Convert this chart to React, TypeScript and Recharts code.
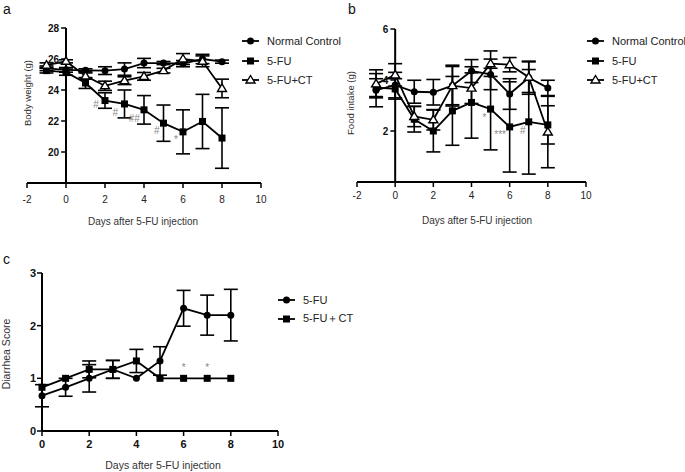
import React from "react";
import {
  ErrorBar,
  Legend,
  Line,
  LineChart,
  ReferenceDot,
  ReferenceLine,
  XAxis,
  YAxis,
} from "recharts";

// ---- data ----
const days = [-1, 0, 1, 2, 3, 4, 5, 6, 7, 8];
const daysC = [0, 1, 2, 3, 4, 5, 6, 7, 8];
const xTicksAB = [-2, 0, 2, 4, 6, 8, 10];
const xTicksC = [0, 2, 4, 6, 8, 10];

// a: body weight (g)
const bwTicks = [20, 22, 24, 26, 28];
const bwNormal = [25.4, 25.3, 25.27, 25.25, 25.35, 25.74, 25.74, 25.7, 26.0, 25.83];
const bwNormalErr = [0.15, 0.15, 0.1, 0.25, 0.4, 0.3, 0.1, 0.2, 0.3, 0.1];
const bw5FU = [25.25, 25.15, 24.45, 23.32, 23.1, 22.72, 21.86, 21.3, 21.97, 20.9];
const bw5FUErr = [0.15, 0.2, 0.35, 0.5, 0.9, 0.92, 1.17, 1.42, 1.75, 1.95];
const bwCT = [25.6, 25.85, 24.9, 24.27, 24.6, 24.88, 25.25, 26.0, 25.85, 24.1];
const bwCTErr = [0.15, 0.1, 0.2, 0.3, 0.25, 0.25, 0.15, 0.35, 0.35, 0.6];
const bwMarks = [
  { day: 1.54, val: 23.04, text: "#" },
  { day: 2.53, val: 22.57, text: "#" },
  { day: 3.5, val: 22.18, text: "##" },
  { day: 4.65, val: 21.42, text: "#" },
  { day: 5.64, val: 20.8, text: "*" },
];

// b: food intake (g)
const fiTicks = [2, 4, 6];
const fiNormal = [3.6, 3.8, 3.54, 3.52, 3.78, 4.35, 4.22, 3.45, 4.09, 3.69];
const fiNormalErr = [0.65, 0.5, 0.45, 0.5, 0.75, 0.45, 0.6, 0.6, 0.65, 0.3];
const fi5FU = [3.7, 3.65, 2.46, 2.0, 2.79, 3.12, 2.86, 2.16, 2.36, 2.24];
const fi5FUErr = [0.35, 0.4, 0.5, 0.82, 1.35, 1.4, 1.6, 1.77, 2.05, 0.75];
const fiCT = [3.85, 4.2, 2.57, 2.44, 3.78, 3.68, 4.64, 4.6, 4.11, 1.96];
const fiCTErr = [0.55, 0.44, 0.4, 0.4, 0.8, 0.6, 0.5, 0.28, 0.6, 1.4];
const fiMarks = [
  { day: 4.68, val: 2.55, text: "*" },
  { day: 5.5, val: 1.85, text: "***" },
  { day: 6.69, val: 2.03, text: "#" },
];

// c: diarrhea score
const dsTicks = [0, 1, 2, 3];
const ds5FU = [0.67, 0.83, 1.0, 1.17, 1.0, 1.33, 2.33, 2.2, 2.2];
const ds5FUErr = [0.21, 0.17, 0.26, 0.17, 0, 0.27, 0.34, 0.38, 0.49];
const dsCT = [0.83, 1.0, 1.17, 1.17, 1.33, 1.0, 1.0, 1.0, 1.0];
const dsCTErr = [0, 0, 0.16, 0.17, 0.22, 0, 0, 0, 0];
const dsMarks = [
  { day: 6, val: 1.2, text: "*" },
  { day: 7, val: 1.2, text: "*" },
];

const toRows = (xs: number[], vals: number[], errs: number[]) =>
  xs.map((d, i) => ({ day: d, v: vals[i], err: errs[i] }));

type Shape = "circle" | "square" | "triangle";

function Marker({ shape, cx, cy }: { shape: Shape; cx: number; cy: number }) {
  if (shape === "circle") return <circle cx={cx} cy={cy} r={3.5} fill="#000" />;
  if (shape === "square")
    return <rect x={cx - 3.5} y={cy - 3.5} width={7} height={7} fill="#000" />;
  return (
    <polygon
      points={`${cx},${cy - 4.5} ${cx - 4.5},${cy + 3} ${cx + 4.5},${cy + 3}`}
      fill="#fff"
      stroke="#000"
      strokeWidth={1.4}
    />
  );
}

const dotFor = (shape: Shape) => (p: any) =>
  <Marker key={`${shape}-${p.index}`} shape={shape} cx={p.cx} cy={p.cy} />;

function LegendBox({ items, rowH }: { items: { name: string; shape: Shape }[]; rowH: number }) {
  return (
    <div style={{ fontSize: 11, color: "#222", whiteSpace: "nowrap" }}>
      {items.map((it) => (
        <div key={it.name} style={{ display: "flex", alignItems: "center", height: rowH }}>
          <svg width={17} height={10} style={{ overflow: "visible" }}>
            <line x1={0} y1={5} x2={17} y2={5} stroke="#000" strokeWidth={1.8} />
            <Marker shape={it.shape} cx={8.5} cy={5} />
          </svg>
          <span style={{ marginLeft: 8 }}>{it.name}</span>
        </div>
      ))}
    </div>
  );
}

const abItems: { name: string; shape: Shape }[] = [
  { name: "Normal Control", shape: "circle" },
  { name: "5-FU", shape: "square" },
  { name: "5-FU+CT", shape: "triangle" },
];
const cItems: { name: string; shape: Shape }[] = [
  { name: "5-FU", shape: "circle" },
  { name: "5-FU＋CT", shape: "square" },
];

const lineProps = { stroke: "#000", strokeWidth: 1.8, isAnimationActive: false };
const errProps = { dataKey: "err", width: 7, stroke: "#000", strokeWidth: 1.6 };
const titleStyle = { fontSize: 10, fill: "#333" };

export default function App() {
  return (
    <div
      style={{
        position: "absolute",
        left: 0,
        top: 0,
        width: 685,
        height: 472,
        background: "#fff",
        overflow: "hidden",
        fontFamily: "'Liberation Sans', Arial, sans-serif",
      }}
    >
      {/* panel a */}
      <div style={{ position: "absolute", left: 0, top: 0 }}>
        <LineChart width={340} height={230} margin={{ top: 28, right: 79, bottom: 0, left: 27 }}>
          <XAxis
            type="number"
            dataKey="day"
            domain={[-2, 10]}
            ticks={xTicksAB}
            interval={0}
            height={47}
            axisLine={{ stroke: "#000", strokeWidth: 2 }}
            tickLine={{ stroke: "#000", strokeWidth: 1.5 }}
            tickSize={5}
            tickMargin={8}
            tick={{ fontSize: 10, fill: "#222" }}
          />
          <YAxis hide type="number" domain={[18, 28]} allowDataOverflow />
          <ReferenceLine x={0} stroke="#000" strokeWidth={2} />
          {bwTicks.map((t) => (
            <ReferenceLine
              key={t}
              segment={[{ x: -0.25, y: t }, { x: 0, y: t }]}
              stroke="#000"
              strokeWidth={1.5}
              label={{ value: String(t), position: "left", offset: 2, fontSize: 10, fontWeight: "bold", fill: "#111" }}
            />
          ))}
          <Line data={toRows(days, bwNormal, bwNormalErr)} dataKey="v" {...lineProps} dot={dotFor("circle")}>
            <ErrorBar {...errProps} />
          </Line>
          <Line data={toRows(days, bw5FU, bw5FUErr)} dataKey="v" {...lineProps} dot={dotFor("square")}>
            <ErrorBar {...errProps} />
          </Line>
          <Line data={toRows(days, bwCT, bwCTErr)} dataKey="v" {...lineProps} dot={dotFor("triangle")}>
            <ErrorBar {...errProps} />
          </Line>
          {bwMarks.map((m, i) => (
            <ReferenceDot
              key={i}
              x={m.day}
              y={m.val}
              r={0}
              fill="none"
              stroke="none"
              label={{ value: m.text, position: "center", fill: "#888", fontSize: 10 }}
            />
          ))}
          <Legend
            layout="vertical"
            align="center"
            verticalAlign="middle"
            wrapperStyle={{ left: 242, top: 31 }}
            content={() => <LegendBox items={abItems} rowH={19.75} />}
          />
          <text x={3} y={14} fontSize={14} fill="#111">a</text>
          <text x={143} y={225} textAnchor="middle" {...titleStyle}>Days after 5-FU injection</text>
          <text x={27} y={93} textAnchor="middle" dominantBaseline="central" transform="rotate(-90 27 93)" fontSize={9.5} fill="#333">
            Body weight (g)
          </text>
        </LineChart>
      </div>

      {/* panel b */}
      <div style={{ position: "absolute", left: 340, top: 0 }}>
        <LineChart width={345} height={230} margin={{ top: 29, right: 99, bottom: 0, left: 17 }}>
          <XAxis
            type="number"
            dataKey="day"
            domain={[-2, 10]}
            ticks={xTicksAB}
            interval={0}
            height={48}
            axisLine={{ stroke: "#000", strokeWidth: 2 }}
            tickLine={{ stroke: "#000", strokeWidth: 1.5 }}
            tickSize={5}
            tickMargin={5}
            tick={{ fontSize: 10, fill: "#222" }}
          />
          <YAxis hide type="number" domain={[0, 6]} allowDataOverflow />
          <ReferenceLine x={0} stroke="#000" strokeWidth={2} />
          {fiTicks.map((t) => (
            <ReferenceLine
              key={t}
              segment={[{ x: -0.25, y: t }, { x: 0, y: t }]}
              stroke="#000"
              strokeWidth={1.5}
              label={{ value: String(t), position: "left", offset: 2, fontSize: 10, fontWeight: "bold", fill: "#111" }}
            />
          ))}
          <Line data={toRows(days, fiNormal, fiNormalErr)} dataKey="v" {...lineProps} dot={dotFor("circle")}>
            <ErrorBar {...errProps} />
          </Line>
          <Line data={toRows(days, fi5FU, fi5FUErr)} dataKey="v" {...lineProps} dot={dotFor("square")}>
            <ErrorBar {...errProps} />
          </Line>
          <Line data={toRows(days, fiCT, fiCTErr)} dataKey="v" {...lineProps} dot={dotFor("triangle")}>
            <ErrorBar {...errProps} />
          </Line>
          {fiMarks.map((m, i) => (
            <ReferenceDot
              key={i}
              x={m.day}
              y={m.val}
              r={0}
              fill="none"
              stroke="none"
              label={{ value: m.text, position: "center", fill: "#888", fontSize: 10 }}
            />
          ))}
          <Legend
            layout="vertical"
            align="center"
            verticalAlign="middle"
            wrapperStyle={{ left: 247, top: 31 }}
            content={() => <LegendBox items={abItems} rowH={19.75} />}
          />
          <text x={8} y={14} fontSize={14} fill="#111">b</text>
          <text x={137} y={223.5} textAnchor="middle" {...titleStyle}>Days after 5-FU injection</text>
          <text x={10} y={103} textAnchor="middle" dominantBaseline="central" transform="rotate(-90 10 103)" fontSize={9.5} fill="#333">
            Food intake (g)
          </text>
        </LineChart>
      </div>

      {/* panel c */}
      <div style={{ position: "absolute", left: 0, top: 230 }}>
        <LineChart width={400} height={242} margin={{ top: 43, right: 122, bottom: 0, left: 0 }}>
          <XAxis
            type="number"
            dataKey="day"
            domain={[0, 10]}
            ticks={xTicksC}
            interval={0}
            height={41}
            axisLine={{ stroke: "#000", strokeWidth: 2 }}
            tickLine={{ stroke: "#000", strokeWidth: 1.5 }}
            tickSize={5}
            tickMargin={4}
            tick={{ fontSize: 11, fontWeight: "bold", fill: "#111" }}
          />
          <YAxis
            type="number"
            domain={[0, 3]}
            ticks={dsTicks}
            interval={0}
            width={42}
            allowDataOverflow
            axisLine={{ stroke: "#000", strokeWidth: 2 }}
            tickLine={{ stroke: "#000", strokeWidth: 1.5 }}
            tickSize={5}
            tickMargin={1}
            tick={{ fontSize: 11, fontWeight: "bold", fill: "#111" }}
          />
          <Line data={toRows(daysC, ds5FU, ds5FUErr)} dataKey="v" {...lineProps} dot={dotFor("circle")}>
            <ErrorBar {...errProps} />
          </Line>
          <Line data={toRows(daysC, dsCT, dsCTErr)} dataKey="v" {...lineProps} dot={dotFor("square")}>
            <ErrorBar {...errProps} />
          </Line>
          {dsMarks.map((m, i) => (
            <ReferenceDot
              key={i}
              x={m.day}
              y={m.val}
              r={0}
              fill="none"
              stroke="none"
              label={{ value: m.text, position: "center", fill: "#888", fontSize: 10 }}
            />
          ))}
          <Legend
            layout="vertical"
            align="center"
            verticalAlign="middle"
            wrapperStyle={{ left: 278, top: 61 }}
            content={() => <LegendBox items={cItems} rowH={18.5} />}
          />
          <text x={3} y={34} fontSize={14} fill="#111">c</text>
          <text x={163} y={238.5} textAnchor="middle" fontSize={10.5} fill="#333">Days after 5-FU injection</text>
          <text x={6} y={124} textAnchor="middle" dominantBaseline="central" transform="rotate(-90 6 124)" fontSize={10.5} fill="#333">
            Diarrhea Score
          </text>
        </LineChart>
      </div>
    </div>
  );
}
